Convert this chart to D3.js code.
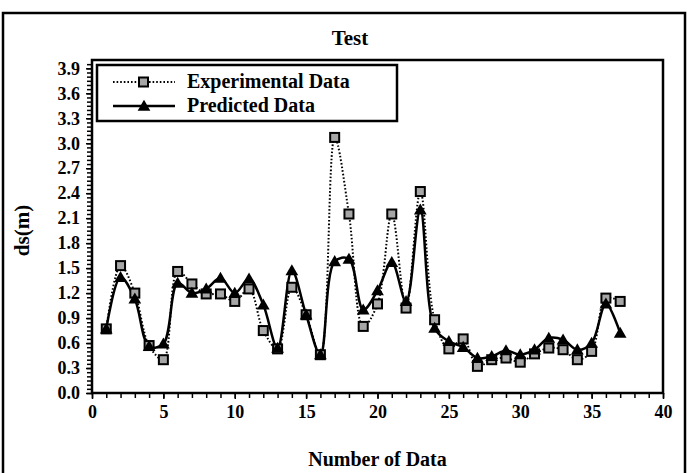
<!DOCTYPE html>
<html>
<head>
<meta charset="utf-8">
<script src="https://cdn.jsdelivr.net/npm/d3@7"></script>
<style>
  body { margin: 0; background: #fff; }
  text { font-family: "Liberation Serif", "Times New Roman", serif; font-weight: bold; fill: #000; }
</style>
</head>
<body>
<svg width="689" height="473"></svg>
<script>
// data
var dataIndex = d3.range(1, 38);
var experimental = [0.77, 1.53, 1.20, 0.57, 0.40, 1.46, 1.31, 1.19, 1.19, 1.10,
  1.25, 0.75, 0.53, 1.27, 0.94, 0.46, 3.07, 2.15, 0.80, 1.07,
  2.15, 1.02, 2.42, 0.88, 0.53, 0.65, 0.32, 0.40, 0.42, 0.37,
  0.47, 0.54, 0.52, 0.40, 0.50, 1.14, 1.10];
var predicted = [0.77, 1.39, 1.13, 0.56, 0.59, 1.32, 1.20, 1.25, 1.38, 1.20,
  1.37, 1.06, 0.54, 1.47, 0.94, 0.46, 1.58, 1.61, 1.00, 1.23,
  1.57, 1.10, 2.20, 0.78, 0.62, 0.55, 0.42, 0.44, 0.51, 0.46,
  0.52, 0.66, 0.64, 0.52, 0.60, 1.07, 0.72];
var xTicks = [0, 5, 10, 15, 20, 25, 30, 35, 40];
var yTicks = d3.range(0, 40, 3).map(function(d) { return d / 10; });
var seriesNames = ['Experimental Data', 'Predicted Data'];

// plot box
var margin = { top: 60, right: 26, bottom: 80, left: 92 };
var width = 689 - margin.left - margin.right,
  height = 473 - margin.top - margin.bottom;

var svg = d3.select('svg');

// outer frame (bottom runs off the picture)
svg.append('rect')
  .attr('x', 3).attr('y', 13)
  .attr('width', 682).attr('height', 480)
  .attr('fill', 'none').attr('stroke', '#000').attr('stroke-width', 2.5);

svg.append('text')
  .attr('x', 350).attr('y', 45)
  .attr('text-anchor', 'middle')
  .style('font-size', '21px')
  .text('Test');

var g = svg.append('g')
  .attr('transform', 'translate(' + margin.left + ',' + margin.top + ')');

var x = d3.scaleLinear().domain([0, 40]).range([0, width]);
var y = d3.scaleLinear().domain([0, 4]).range([height, 0]);

// minor ticks
g.append('g')
  .attr('transform', 'translate(0,' + height + ')')
  .call(d3.axisBottom(x).tickValues(d3.range(0, 41)).tickSize(5).tickFormat(''))
  .call(function(a) { a.select('.domain').remove(); });
g.append('g')
  .call(d3.axisLeft(y).tickValues(d3.range(0, 80).map(function(d) { return d * 0.05; })).tickSize(5).tickFormat(''))
  .call(function(a) { a.select('.domain').remove(); });

// major ticks + labels
var xAxis = g.append('g')
  .attr('transform', 'translate(0,' + height + ')')
  .call(d3.axisBottom(x).tickValues(xTicks).tickSize(6).tickPadding(6));
xAxis.select('.domain').remove();
xAxis.selectAll('text').style('font-size', '18px').style('font-family', '"Liberation Serif", serif').style('font-weight', 'bold');

var yAxis = g.append('g')
  .call(d3.axisLeft(y).tickValues(yTicks).tickSize(6).tickPadding(6).tickFormat(d3.format('.1f')));
yAxis.select('.domain').remove();
yAxis.selectAll('text').style('font-size', '18px').style('font-family', '"Liberation Serif", serif').style('font-weight', 'bold');

g.selectAll('.tick line').attr('stroke', '#000').attr('stroke-width', 1.5);

// plot border
g.append('rect')
  .attr('width', width).attr('height', height)
  .attr('fill', 'none').attr('stroke', '#000').attr('stroke-width', 2.5);

// axis titles
svg.append('text')
  .attr('x', margin.left + width / 2).attr('y', 466)
  .attr('text-anchor', 'middle')
  .style('font-size', '20px')
  .text('Number of Data');
svg.append('text')
  .attr('transform', 'translate(29,' + (margin.top + height / 2 + 4) + ') rotate(-90)')
  .attr('text-anchor', 'middle')
  .style('font-size', '21px')
  .text('ds(m)');

var line = d3.line()
  .x(function(d, i) { return x(dataIndex[i]); })
  .y(function(d) { return y(d); })
  .curve(d3.curveCatmullRom.alpha(0.5));

var triangle = d3.symbol().type(d3.symbolTriangle).size(70);

// experimental: dotted + grey squares
g.append('path')
  .datum(experimental)
  .attr('d', line)
  .attr('fill', 'none').attr('stroke', '#000')
  .attr('stroke-width', 2).attr('stroke-dasharray', '1.6,2');

// predicted: solid line
g.append('path')
  .datum(predicted)
  .attr('d', line)
  .attr('fill', 'none').attr('stroke', '#000').attr('stroke-width', 2.5);

g.selectAll('.sq')
  .data(experimental)
  .enter().append('rect')
  .attr('class', 'sq')
  .attr('x', function(d, i) { return x(dataIndex[i]) - 4.5; })
  .attr('y', function(d) { return y(d) - 4.5; })
  .attr('width', 9).attr('height', 9)
  .attr('fill', '#a6a6a6').attr('stroke', '#000').attr('stroke-width', 2);

g.selectAll('.tri')
  .data(predicted)
  .enter().append('path')
  .attr('class', 'tri')
  .attr('d', triangle)
  .attr('transform', function(d, i) { return 'translate(' + x(dataIndex[i]) + ',' + (y(d) + 1) + ')'; })
  .attr('fill', '#000');

// legend
var legend = svg.append('g');
legend.append('rect')
  .attr('x', 97).attr('y', 65)
  .attr('width', 300).attr('height', 56)
  .attr('fill', '#fff').attr('stroke', '#000').attr('stroke-width', 2.5);

var rows = [82, 106];
legend.append('line')
  .attr('x1', 113).attr('x2', 175).attr('y1', rows[0]).attr('y2', rows[0])
  .attr('stroke', '#000').attr('stroke-width', 2).attr('stroke-dasharray', '1.6,2');
legend.append('rect')
  .attr('x', 139).attr('y', rows[0] - 4.5).attr('width', 9).attr('height', 9)
  .attr('fill', '#a6a6a6').attr('stroke', '#000').attr('stroke-width', 2);
legend.append('line')
  .attr('x1', 113).attr('x2', 175).attr('y1', rows[1]).attr('y2', rows[1])
  .attr('stroke', '#000').attr('stroke-width', 2.5);
legend.append('path')
  .attr('d', triangle)
  .attr('transform', 'translate(144,' + (rows[1] + 1) + ')')
  .attr('fill', '#000');

legend.selectAll('.lt')
  .data(seriesNames)
  .enter().append('text')
  .attr('x', 187)
  .attr('y', function(d, i) { return rows[i] + 6; })
  .style('font-size', '20px')
  .text(function(d) { return d; });
</script>
</body>
</html>
